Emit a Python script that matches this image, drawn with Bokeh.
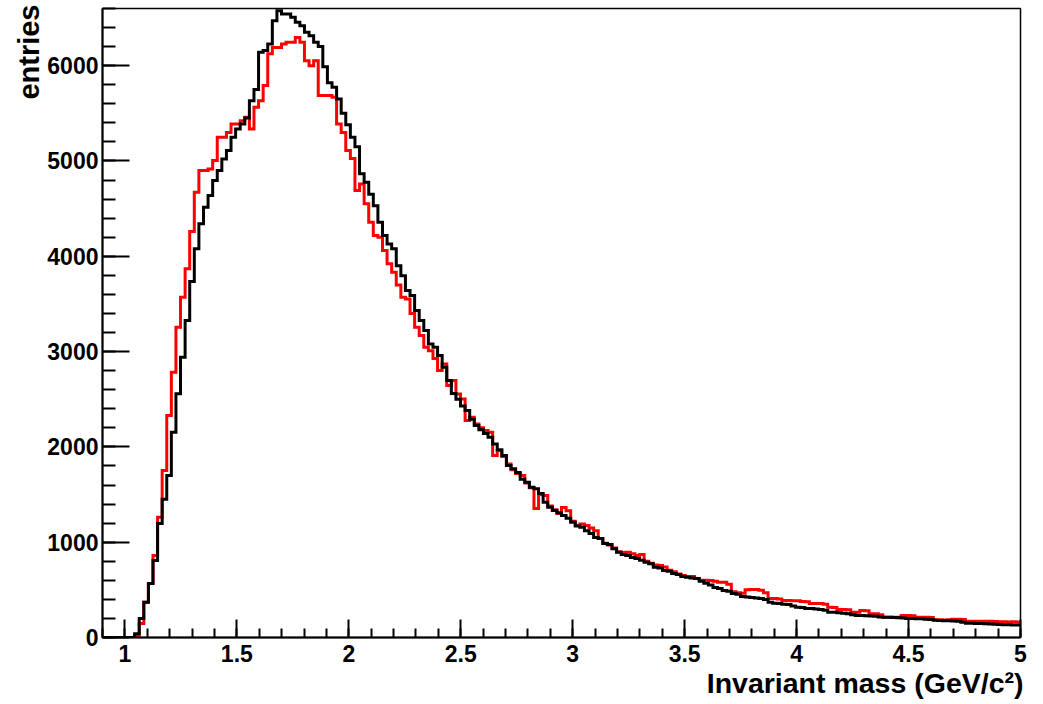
import numpy as np
from bokeh.plotting import figure
from bokeh.models import Range1d, SingleIntervalTicker, NumeralTickFormatter, Title
from bokeh.embed import file_html
from bokeh.resources import INLINE

# Histogram binning (invariant mass, GeV/c^2)
mass_min = 0.9
mass_max = 5.0
n_bins = 200

# Black histogram (entries per bin)
black_counts = [
    0, 0, 0, 0, 0, 0, 0, 40, 200, 370,
    566, 808, 1196, 1450, 1700, 2154, 2557, 2941, 3326, 3735,
    4078, 4341, 4514, 4637, 4794, 4899, 5022, 5109, 5248, 5336,
    5389, 5450, 5633, 5750, 6140, 6158, 6228, 6472, 6577, 6542,
    6542, 6507, 6455, 6420, 6350, 6315, 6245, 6200, 5990, 5820,
    5773, 5650, 5500, 5380, 5250, 5150, 4866, 4777, 4650, 4531,
    4357, 4217, 4130, 4078, 3902, 3797, 3640, 3588, 3430, 3325,
    3220, 3080, 3045, 2958, 2835, 2696, 2560, 2500, 2430, 2381,
    2290, 2224, 2180, 2140, 2101, 2030, 1970, 1909, 1804, 1770,
    1731, 1660, 1630, 1577, 1560, 1510, 1420, 1367, 1332, 1310,
    1280, 1250, 1210, 1170, 1157, 1120, 1091, 1050, 1038, 986,
    975, 930, 895, 870, 860, 840, 829, 810, 790, 775,
    737, 730, 703, 695, 671, 660, 640, 633, 625, 619,
    590, 570, 550, 524, 515, 493, 485, 461, 455, 430,
    425, 420, 415, 410, 400, 370, 360, 356, 350, 345,
    330, 318, 315, 305, 304, 300, 295, 285, 266, 265,
    260, 255, 250, 240, 231, 230, 228, 225, 222, 215,
    213, 212, 210, 208, 205, 200, 199, 198, 196, 192,
    190, 180, 178, 176, 175, 172, 170, 160, 150, 150,
    148, 146, 145, 142, 138, 136, 135, 134, 132, 130,
]

# Red histogram (entries per bin)
red_counts = [
    0, 0, 0, 0, 0, 0, 0, 20, 147, 370,
    566, 860, 1262, 1752, 2329, 2783, 3255, 3570, 3868, 4260,
    4671, 4899, 4899, 4916, 5004, 5248, 5248, 5300, 5389, 5389,
    5423, 5458, 5336, 5563, 5633, 5791, 6124, 6192, 6192, 6228,
    6245, 6245, 6297, 6245, 6053, 6000, 6053, 5686, 5686, 5686,
    5668, 5389, 5300, 5109, 5025, 4689, 4759, 4552, 4357, 4217,
    4200, 4060, 3923, 3832, 3700, 3570, 3553, 3399, 3255, 3168,
    3045, 3010, 2927, 2801, 2870, 2643, 2696, 2555, 2503, 2276,
    2311, 2241, 2200, 2171, 2154, 1909, 1962, 1900, 1820, 1760,
    1720, 1700, 1620, 1570, 1353, 1500, 1490, 1380, 1340, 1300,
    1364, 1330, 1220, 1175, 1190, 1175, 1150, 1120, 1040, 990,
    970, 940, 900, 892, 895, 880, 860, 870, 800, 780,
    760, 755, 740, 705, 690, 665, 650, 640, 640, 620,
    600, 600, 598, 590, 580, 580, 560, 480, 470, 465,
    500, 503, 503, 495, 470, 409, 409, 405, 388, 388,
    385, 385, 377, 375, 356, 356, 356, 350, 318, 315,
    294, 294, 290, 266, 265, 283, 280, 248, 248, 240,
    213, 213, 212, 213, 231, 231, 228, 213, 213, 212,
    210, 185, 185, 184, 185, 192, 192, 190, 171, 171,
    170, 171, 170, 170, 169, 164, 164, 163, 164, 162,
]

x_title = "Invariant mass (GeV/c\u00b2)"
y_title = "entries"

edges = np.linspace(mass_min, mass_max, n_bins + 1)
black_y = list(black_counts) + [black_counts[-1]]
red_y = list(red_counts) + [red_counts[-1]]

FONT = "Liberation Sans"

p = figure(width=1043, height=704, x_range=Range1d(mass_min, mass_max),
           y_range=Range1d(0, 6600), output_backend="svg", toolbar_location=None,
           min_border_left=102, min_border_right=23, min_border_top=8,
           min_border_bottom=67, title=None)
p.xgrid.visible = False
p.ygrid.visible = False
p.background_fill_color = "white"
p.border_fill_color = "white"
p.outline_line_color = "black"
p.outline_line_width = 1.5

xa = p.xaxis[0]
xa.ticker = SingleIntervalTicker(interval=0.5, num_minor_ticks=5)
xa.formatter = NumeralTickFormatter(format="0.[0]")
xa.major_tick_in = 18
xa.major_tick_out = 0
xa.minor_tick_in = 9
xa.minor_tick_out = 0
xa.major_label_standoff = 7

ya = p.yaxis[0]
ya.ticker = SingleIntervalTicker(interval=1000, num_minor_ticks=5)
ya.major_tick_in = 27
ya.major_tick_out = 0
ya.minor_tick_in = 13
ya.minor_tick_out = 0
ya.major_label_standoff = 4

for ax in (xa, ya):
    ax.axis_line_width = 2
    ax.axis_line_color = "black"
    ax.major_tick_line_width = 2
    ax.minor_tick_line_width = 2
    ax.major_tick_line_color = "black"
    ax.minor_tick_line_color = "black"
    ax.major_label_text_font = FONT
    ax.major_label_text_font_style = "bold"
    ax.major_label_text_font_size = "23px"
    ax.major_label_text_color = "black"

p.step(edges, red_y, mode="after", line_color="#ff0000", line_width=3, line_join="miter")
p.step(edges, black_y, mode="after", line_color="#000000", line_width=3, line_join="miter")

p.add_layout(Title(text=x_title, align="right", text_font=FONT, text_font_style="bold",
                   text_font_size="28.5px", text_color="black", standoff=0, offset=-3),
             "below")
p.add_layout(Title(text=y_title, align="right", text_font=FONT, text_font_style="bold",
                   text_font_size="29px", text_color="black", standoff=0, offset=-4),
             "left")

open("out.html", "w").write(file_html(p, INLINE))
